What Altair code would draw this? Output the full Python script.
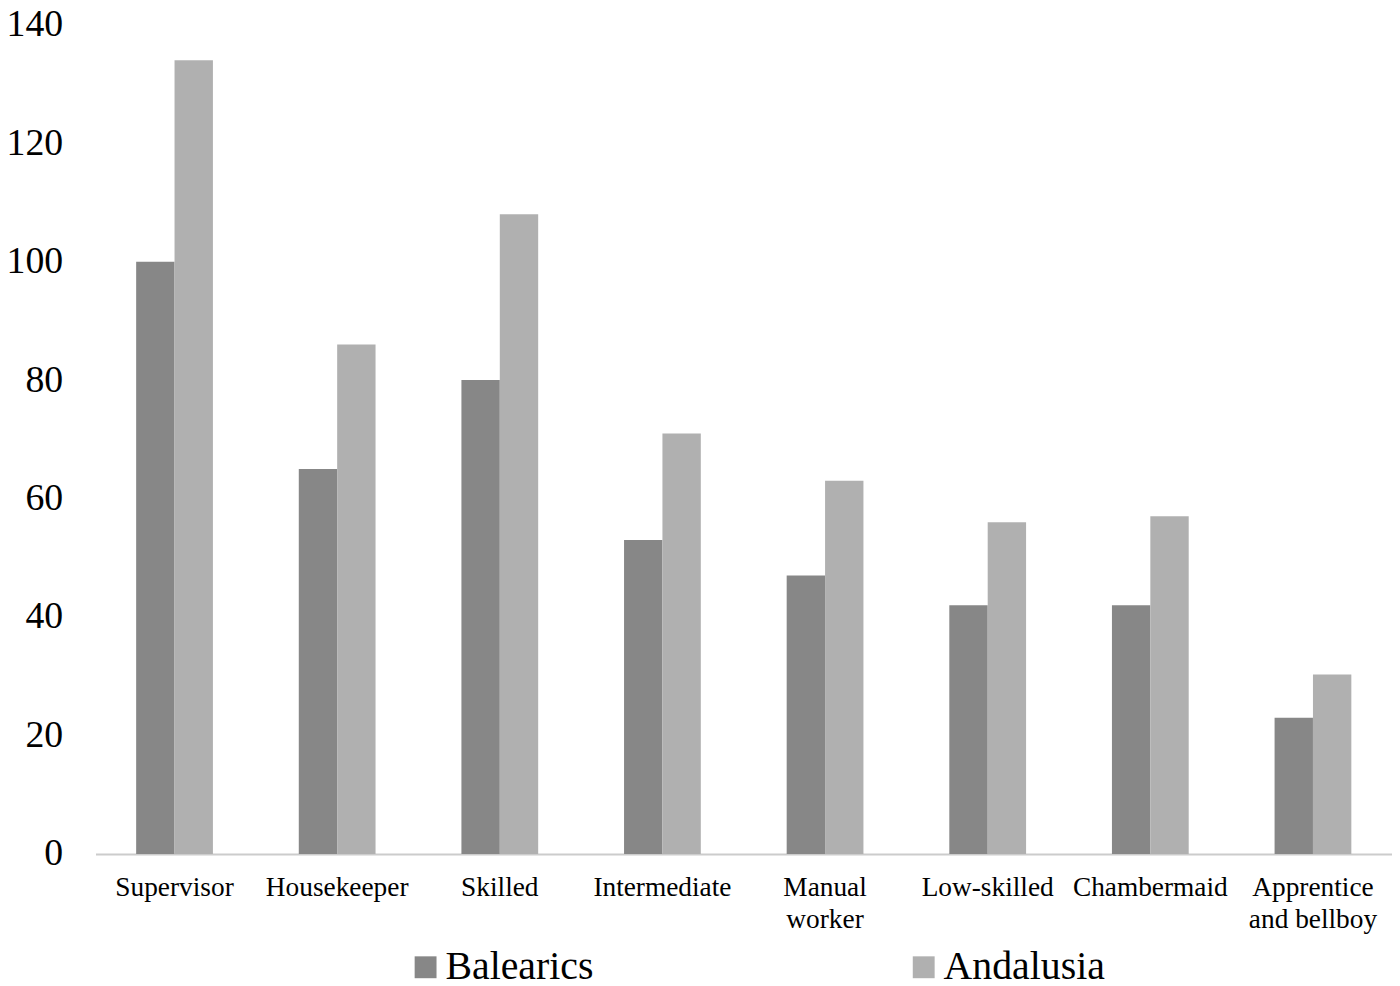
import altair as alt
import pandas as pd

categories = ["Supervisor", "Housekeeper", "Skilled", "Intermediate",
              "Manual worker", "Low-skilled", "Chambermaid", "Apprentice and bellboy"]
balearics = [100, 65, 80, 53, 47, 42, 42, 23]
andalusia = [134, 86, 108, 71, 63, 56, 57, 30.3]
series = ["Balearics", "Andalusia"]
colors = ["#878787", "#b0b0b0"]

rows = []
for c, b, a in zip(categories, balearics, andalusia):
    rows.append({"category": c, "region": "Balearics", "value": b})
    rows.append({"category": c, "region": "Andalusia", "value": a})
df = pd.DataFrame(rows)

font = "Liberation Serif"

label_expr = ("datum.label == 'Manual worker' ? ['Manual', 'worker'] : "
              "datum.label == 'Apprentice and bellboy' ? ['Apprentice', 'and bellboy'] : datum.label")

chart = alt.Chart(df).mark_bar().encode(
    x=alt.X("category:N", sort=categories, title=None,
            scale=alt.Scale(paddingInner=0.528, paddingOuter=0.25),
            axis=alt.Axis(labelAngle=0, labelFont=font, labelFontSize=27.5, labelColor="#000000",
                          labelPadding=20, labelLineHeight=32, labelExpr=label_expr,
                          ticks=False, domainColor="#cccccc", domainWidth=2,
                          labelBaseline="top")),
    xOffset=alt.XOffset("region:N", sort=series),
    y=alt.Y("value:Q", title=None,
            scale=alt.Scale(domain=[0, 140], nice=False),
            axis=alt.Axis(values=[0, 20, 40, 60, 80, 100, 120, 140], grid=False, ticks=False,
                          domain=False, labelFont=font, labelFontSize=38, labelColor="#000000",
                          labelPadding=33)),
    color=alt.Color("region:N", sort=series,
                    scale=alt.Scale(domain=series, range=colors),
                    legend=alt.Legend(title=None, orient="none", direction="horizontal",
                                      legendX=312, legendY=928, symbolType="square",
                                      symbolSize=484, symbolStrokeWidth=0,
                                      labelFont=font, labelFontSize=40, labelColor="#000000",
                                      labelLimit=600, labelOffset=0, columnPadding=312)),
).properties(
    width=1304, height=834,
    autosize=alt.AutoSizeParams(type="none"),
    padding={"left": 88, "top": 14, "right": 0, "bottom": 126},
).configure_view(stroke=None)

chart.save("out.html", embed_options={"renderer": "svg", "actions": False})
